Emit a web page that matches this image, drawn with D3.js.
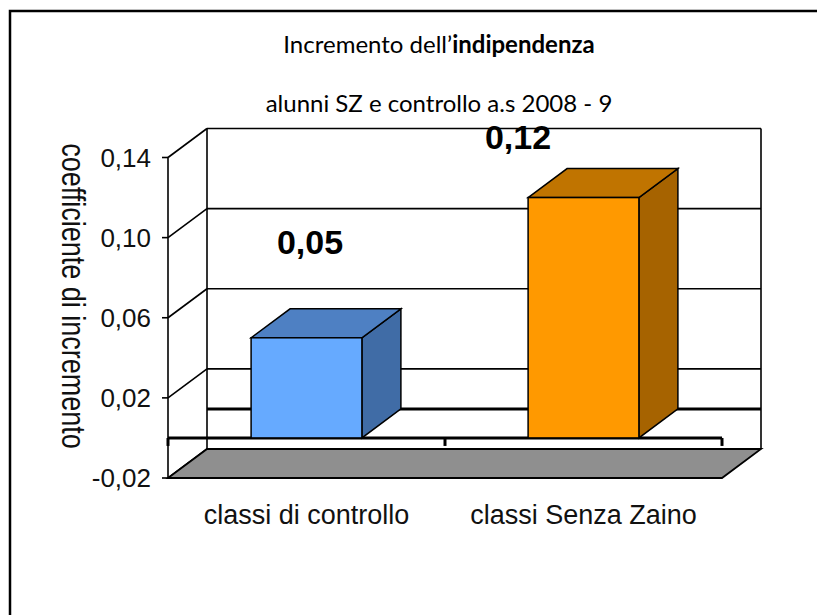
<!DOCTYPE html>
<html>
<head>
<meta charset="utf-8">
<script src="https://cdn.jsdelivr.net/npm/d3@7"></script>
<style>
  body { margin: 0; background: #fff; }
  svg { display: block; }
</style>
</head>
<body>
<svg id="chart" width="817" height="615"></svg>
<script>
// chart data
const categories = ['classi di controllo', 'classi Senza Zaino'];
const values = [0.05, 0.12];
const valueLabels = ['0,05', '0,12'];
const yTicks = [-0.02, 0.02, 0.06, 0.10, 0.14];
const yTickLabels = ['-0,02', '0,02', '0,06', '0,10', '0,14'];
const backGridValues = [0.02, 0.06, 0.10, 0.14];

const colors = {
    front: ['#66aaff', '#ff9900'],
    top: ['#4e80c3', '#c07400'],
    side: ['#406ca6', '#a66300'],
    floor: '#8f8f8f'
};

// 3D depth of the plot box
const DX = 39, DY = -29;
const AXIS_FONT = '"Liberation Sans", Arial, sans-serif';
const TITLE_FONT = 'Lato, "Open Sans", sans-serif';

const svg = d3.select('#chart');

// outer frame, runs off the right and bottom of the page
svg.append('rect')
    .attr('x', 10).attr('y', 11)
    .attr('width', 900).attr('height', 700)
    .attr('fill', 'none')
    .attr('stroke', '#000')
    .attr('stroke-width', 2.5);

// titles
let title = svg.append('text')
    .attr('x', 439).attr('y', 53)
    .attr('text-anchor', 'middle')
    .style('font-family', TITLE_FONT)
    .style('font-size', '24px');
title.append('tspan').text('Incremento dell\u2019');
title.append('tspan').attr('font-weight', 'bold').text('indipendenza');

svg.append('text')
    .attr('x', 439).attr('y', 112)
    .attr('text-anchor', 'middle')
    .style('font-family', TITLE_FONT)
    .style('font-size', '24px')
    .text('alunni SZ e controllo a.s 2008 - 9');

// scales
const y = d3.scaleLinear().domain([-0.02, 0.14]).range([478, 157.5]);
const x = d3.scaleBand().domain(categories).range([168, 722])
    .paddingInner(0.6).paddingOuter(0.3);
const xLeft = x.range()[0], xRight = x.range()[1];

const plot = svg.append('g');
const line = (x1, y1, x2, y2, w) => plot.append('line')
    .attr('x1', x1).attr('y1', y1).attr('x2', x2).attr('y2', y2)
    .attr('stroke', '#000').attr('stroke-width', w || 1.5);

// back wall: gridlines, diagonals and edges
for (let v of backGridValues) {
    line(xLeft + DX, y(v) + DY, xRight + DX, y(v) + DY, 1.6);
}
for (let v of yTicks) {
    line(xLeft, y(v), xLeft + DX, y(v) + DY, 1.6);
}
line(xLeft + DX, y(0.14) + DY, xLeft + DX, y(-0.02) + DY, 1.6);
line(xRight + DX, y(0.14) + DY, xRight + DX, y(-0.02) + DY, 1.6);
// zero line on the back wall
line(xLeft + DX, y(0) + DY, xRight + DX, y(0) + DY, 3);

// floor
plot.append('path')
    .attr('d', d3.line()([
        [xLeft, y(-0.02)], [xRight, y(-0.02)],
        [xRight + DX, y(-0.02) + DY], [xLeft + DX, y(-0.02) + DY]
    ]) + 'Z')
    .attr('fill', colors.floor)
    .attr('stroke', '#000')
    .attr('stroke-width', 1.8);

// front zero line with its category ticks
line(xLeft, y(0), xRight, y(0), 3);
for (let t of [xLeft, (xLeft + xRight) / 2, xRight]) {
    line(t, y(0), t, y(0) + 8, 3);
}

// y axis
line(xLeft, y(0.14), xLeft, y(-0.02), 1.6);
for (let i = 0; i < yTicks.length; i++) {
    line(xLeft - 6, y(yTicks[i]), xLeft, y(yTicks[i]), 1.6);
    svg.append('text')
        .attr('x', xLeft - 17)
        .attr('y', y(yTicks[i]) + 9)
        .attr('text-anchor', 'end')
        .style('font-family', AXIS_FONT)
        .style('font-size', '26px')
        .style('fill', '#111')
        .text(yTickLabels[i]);
}

// bars as boxes: front, top, side
categories.forEach((cat, i) => {
    let x0 = x(cat), x1 = x(cat) + x.bandwidth();
    let y0 = y(0), y1 = y(values[i]);
    let g = plot.append('g');
    g.append('path')
        .attr('d', d3.line()([[x1, y1], [x1 + DX, y1 + DY], [x1 + DX, y0 + DY], [x1, y0]]) + 'Z')
        .attr('fill', colors.side[i]).attr('stroke', '#000').attr('stroke-width', 1.5);
    g.append('path')
        .attr('d', d3.line()([[x0, y1], [x0 + DX, y1 + DY], [x1 + DX, y1 + DY], [x1, y1]]) + 'Z')
        .attr('fill', colors.top[i]).attr('stroke', '#000').attr('stroke-width', 1.5);
    g.append('rect')
        .attr('x', x0).attr('y', y1)
        .attr('width', x1 - x0).attr('height', y0 - y1)
        .attr('fill', colors.front[i]).attr('stroke', '#000').attr('stroke-width', 1.5);
});

// value labels
const labelPos = [[310, 254], [518, 149]];
valueLabels.forEach((lab, i) => {
    svg.append('text')
        .attr('x', labelPos[i][0]).attr('y', labelPos[i][1])
        .attr('text-anchor', 'middle')
        .style('font-family', AXIS_FONT)
        .style('font-size', '34px')
        .style('font-weight', 'bold')
        .text(lab);
});

// category labels
categories.forEach(cat => {
    svg.append('text')
        .attr('x', x(cat) + x.bandwidth() / 2)
        .attr('y', 524)
        .attr('text-anchor', 'middle')
        .style('font-family', AXIS_FONT)
        .style('font-size', '27px')
        .style('fill', '#111')
        .text(cat);
});

// y axis title, reads top to bottom; a little wider across, like the original
svg.append('text')
    .attr('transform', 'translate(62,296) rotate(90) scale(1,1.25)')
    .attr('text-anchor', 'middle')
    .style('font-family', AXIS_FONT)
    .style('font-size', '27px')
    .style('fill', '#111')
    .text('coefficiente di incremento');
</script>
</body>
</html>
